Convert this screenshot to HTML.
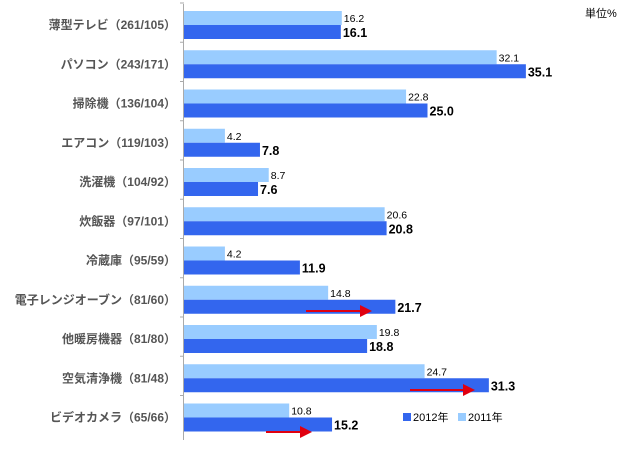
<!DOCTYPE html>
<html><head><meta charset="utf-8"><style>
body{margin:0;background:#fff;width:630px;height:445px;overflow:hidden}
svg text{font-family:"Liberation Sans","Noto Sans CJK JP",sans-serif}
</style></head><body>
<svg width="630" height="445" xmlns="http://www.w3.org/2000/svg">
<defs><marker id="ah" markerWidth="6" markerHeight="6" refX="5" refY="3" orient="auto"><path d="M0,0 L6,3 L0,6 z" fill="#e00010"/></marker></defs>
<text x="585" y="17" font-size="11" fill="#000">単位%</text>
<g id="bars"></g>
<line x1="183.5" y1="4" x2="183.5" y2="440" stroke="#aaa"/>
<rect x="403" y="413" width="8" height="8" fill="#3366ee"/><text x="413" y="421" font-size="11">2012年</text>
<rect x="458" y="413" width="8" height="8" fill="#99ccff"/><text x="468" y="421" font-size="11">2011年</text>
</svg>
<script>
var d=[["薄型テレビ（261/105）",16.2,16.1],["パソコン（243/171）",32.1,35.1],["掃除機（136/104）",22.8,25.0],["エアコン（119/103）",4.2,7.8],["洗濯機（104/92）",8.7,7.6],["炊飯器（97/101）",20.6,20.8],["冷蔵庫（95/59）",4.2,11.9],["電子レンジオーブン（81/60）",14.8,21.7],["他暖房機器（81/80）",19.8,18.8],["空気清浄機（81/48）",24.7,31.3],["ビデオカメラ（65/66）",10.8,15.2]];
var g=document.getElementById("bars"),s="",k=9.74;
d.forEach(function(r,i){var y=11+i*39.25;
s+='<line x1="180" y1="'+(y-8)+'" x2="184" y2="'+(y-8)+'" stroke="#aaa"/>';
s+='<text x="176" y="'+(y+18)+'" font-size="12" font-weight="bold" fill="#555" text-anchor="end">'+r[0]+'</text>';
var w1=r[1]*k,w2=r[2]*k;
s+='<rect x="184" y="'+y+'" width="'+w1+'" height="14" fill="#99ccff"/>';
s+='<rect x="184" y="'+(y+14)+'" width="'+w2+'" height="14" fill="#3366ee"/>';
s+='<text x="'+(186+w1)+'" y="'+(y+11)+'" font-size="10.5">'+r[1].toFixed(1)+'</text>';
s+='<text x="'+(186+w2)+'" y="'+(y+26)+'" font-size="12.5" font-weight="bold">'+r[2].toFixed(1)+'</text>';
});
s+='<line x1="306" y1="311" x2="370" y2="311" stroke="#e00010" stroke-width="2" marker-end="url(#ah)"/>';
s+='<line x1="410" y1="390" x2="473" y2="390" stroke="#e00010" stroke-width="2" marker-end="url(#ah)"/>';
s+='<line x1="266" y1="432" x2="310" y2="432" stroke="#e00010" stroke-width="2" marker-end="url(#ah)"/>';
g.innerHTML=s;
</script>
</body></html>
